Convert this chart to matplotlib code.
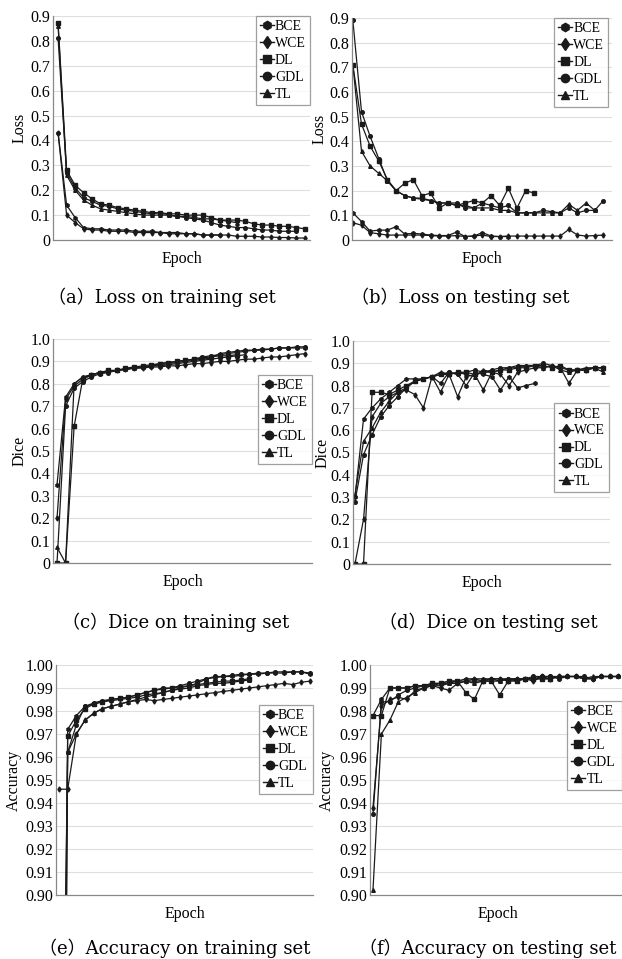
import matplotlib
matplotlib.use("Agg")
import matplotlib.pyplot as plt
from matplotlib.lines import Line2D

plt.rcParams['font.family'] = ['Liberation Serif', 'DejaVu Serif']

W, H = 622, 959

series_names = ["BCE", "WCE", "DL", "GDL", "TL"]
markers = {"BCE": "h", "WCE": "d", "DL": "s", "GDL": "o", "TL": "^"}

# (a) Loss on training set
a_BCE = [0.43, 0.14, 0.09, 0.05, 0.045, 0.045, 0.04, 0.04, 0.04, 0.035, 0.035, 0.035, 0.03, 0.03, 0.03,
         0.025, 0.025, 0.02, 0.02, 0.02]
a_WCE = [0.43, 0.10, 0.07, 0.045, 0.04, 0.04, 0.035, 0.035, 0.035, 0.03, 0.03, 0.03, 0.03, 0.025, 0.025,
         0.025, 0.025, 0.02, 0.02, 0.02, 0.02, 0.015, 0.015, 0.015, 0.012, 0.012, 0.01, 0.01, 0.008, 0.008]
a_DL = [0.87, 0.28, 0.22, 0.19, 0.165, 0.145, 0.14, 0.13, 0.125, 0.12, 0.115, 0.11, 0.11, 0.105, 0.105,
        0.10, 0.10, 0.10, 0.09, 0.08, 0.08, 0.08, 0.075, 0.065, 0.06, 0.06, 0.055, 0.055, 0.05, 0.045]
a_GDL = [0.81, 0.27, 0.21, 0.17, 0.155, 0.14, 0.135, 0.125, 0.12, 0.115, 0.11, 0.105, 0.11, 0.10, 0.095,
         0.09, 0.085, 0.08, 0.07, 0.06, 0.055, 0.05, 0.05, 0.045, 0.04, 0.04, 0.035, 0.035, 0.035]
a_TL = [0.86, 0.26, 0.20, 0.16, 0.14, 0.125, 0.12, 0.115, 0.11, 0.105, 0.10, 0.10, 0.10, 0.10, 0.095,
        0.095, 0.09, 0.085, 0.085, 0.08, 0.075, 0.07]

# (b) Loss on testing set
b_BCE = [0.11, 0.075, 0.036, 0.04, 0.04, 0.054, 0.024, 0.027, 0.024, 0.02, 0.018, 0.018, 0.032, 0.014,
         0.016, 0.03, 0.016, 0.014, 0.014]
b_WCE = [0.07, 0.06, 0.03, 0.025, 0.02, 0.02, 0.02, 0.02, 0.02, 0.018, 0.016, 0.016, 0.018, 0.014, 0.016,
         0.02, 0.014, 0.014, 0.016, 0.016, 0.016, 0.016, 0.016, 0.016, 0.016, 0.043, 0.02, 0.016, 0.018, 0.02]
b_DL = [0.71, 0.47, 0.38, 0.32, 0.245, 0.20, 0.23, 0.245, 0.18, 0.19, 0.13, 0.15, 0.14, 0.15, 0.16,
        0.15, 0.18, 0.14, 0.21, 0.13, 0.20, 0.19]
b_GDL = [0.89, 0.52, 0.42, 0.33, 0.24, 0.20, 0.18, 0.17, 0.165, 0.16, 0.15, 0.15, 0.15, 0.13, 0.13,
         0.15, 0.14, 0.13, 0.14, 0.11, 0.11, 0.11, 0.12, 0.115, 0.11, 0.13, 0.11, 0.12, 0.12, 0.16]
b_TL = [0.71, 0.36, 0.30, 0.27, 0.24, 0.20, 0.18, 0.17, 0.17, 0.16, 0.15, 0.15, 0.14, 0.14, 0.13,
        0.13, 0.13, 0.12, 0.12, 0.11, 0.11, 0.11, 0.11, 0.11, 0.11, 0.145, 0.12, 0.15, 0.12]

# (c) Dice on training set
c_BCE = [0.35, 0.74, 0.80, 0.83, 0.84, 0.85, 0.855, 0.86, 0.865, 0.87, 0.875, 0.88, 0.885, 0.89, 0.895,
         0.90, 0.905, 0.91, 0.915, 0.935, 0.94, 0.945, 0.95, 0.95, 0.955, 0.955, 0.96, 0.96, 0.96, 0.96]
c_WCE = [0.20, 0.73, 0.79, 0.82, 0.84, 0.85, 0.855, 0.86, 0.865, 0.87, 0.87, 0.875, 0.875, 0.88, 0.88,
         0.885, 0.89, 0.89, 0.895, 0.90, 0.90, 0.905, 0.91, 0.91, 0.915, 0.92, 0.92, 0.925, 0.93, 0.935]
c_DL = [0.0, 0.0, 0.61, 0.82, 0.84, 0.85, 0.86, 0.86, 0.87, 0.875, 0.88, 0.885, 0.89, 0.895, 0.90,
        0.905, 0.91, 0.915, 0.92, 0.925, 0.925, 0.93]
c_GDL = [0.0, 0.70, 0.78, 0.81, 0.83, 0.845, 0.85, 0.86, 0.865, 0.87, 0.875, 0.88, 0.89, 0.895, 0.90,
         0.905, 0.91, 0.92, 0.925, 0.93, 0.935, 0.94, 0.945, 0.95, 0.95, 0.955, 0.96, 0.96, 0.965, 0.965]
c_TL = [0.07, 0.0, 0.80, 0.83, 0.84, 0.85, 0.855, 0.86, 0.865, 0.87, 0.875, 0.88, 0.88, 0.885, 0.89,
        0.895, 0.90, 0.905, 0.91, 0.915, 0.92, 0.925, 0.93]

# (d) Dice on testing set
d_BCE = [0.30, 0.65, 0.70, 0.74, 0.77, 0.80, 0.83, 0.83, 0.83, 0.84, 0.81, 0.86, 0.85, 0.80, 0.86,
         0.85, 0.84, 0.78, 0.84, 0.79, 0.80, 0.81]
d_WCE = [0.0, 0.20, 0.66, 0.72, 0.75, 0.77, 0.78, 0.76, 0.70, 0.84, 0.77, 0.85, 0.75, 0.84, 0.85,
         0.78, 0.86, 0.85, 0.80, 0.86, 0.87, 0.88, 0.88, 0.89, 0.88, 0.81, 0.87, 0.87, 0.88, 0.88]
d_DL = [0.0, 0.0, 0.77, 0.77, 0.76, 0.78, 0.80, 0.82, 0.83, 0.84, 0.85, 0.85, 0.86, 0.86, 0.85,
        0.86, 0.86, 0.87, 0.87, 0.88, 0.88, 0.89, 0.89, 0.88, 0.89, 0.87, 0.87, 0.87, 0.88, 0.88]
d_GDL = [0.28, 0.49, 0.58, 0.66, 0.71, 0.75, 0.79, 0.82, 0.83, 0.84, 0.85, 0.86, 0.85, 0.86, 0.87,
         0.86, 0.87, 0.88, 0.88, 0.89, 0.89, 0.89, 0.90, 0.89, 0.88, 0.87, 0.87, 0.87, 0.88, 0.88]
d_TL = [0.31, 0.55, 0.61, 0.68, 0.73, 0.77, 0.79, 0.82, 0.83, 0.84, 0.86, 0.85, 0.86, 0.85, 0.84,
        0.87, 0.86, 0.87, 0.88, 0.88, 0.89, 0.89, 0.88, 0.89, 0.87, 0.86, 0.87, 0.88, 0.88, 0.86]

# (e) Accuracy on training set
e_BCE = [0.60, 0.972, 0.978, 0.982, 0.983, 0.984, 0.9845, 0.985, 0.9855, 0.986, 0.987, 0.9875, 0.988,
         0.989, 0.990, 0.991, 0.992, 0.994, 0.9945, 0.995, 0.995, 0.9955, 0.996, 0.996, 0.9965, 0.9965,
         0.9965, 0.997, 0.997, 0.996]
e_WCE = [0.946, 0.946, 0.970, 0.976, 0.979, 0.981, 0.982, 0.983, 0.984, 0.9845, 0.985, 0.9845, 0.985,
         0.9855, 0.986, 0.9865, 0.987, 0.9875, 0.988, 0.9885, 0.989, 0.9895, 0.990, 0.9905, 0.991,
         0.9915, 0.992, 0.9915, 0.9925, 0.993]
e_DL = [0.50, 0.969, 0.976, 0.981, 0.983, 0.984, 0.985, 0.9855, 0.986, 0.987, 0.988, 0.989, 0.9895,
        0.990, 0.9905, 0.991, 0.9915, 0.992, 0.9925, 0.993, 0.993, 0.9935, 0.994]
e_GDL = [0.70, 0.962, 0.974, 0.982, 0.9835, 0.9845, 0.985, 0.9855, 0.986, 0.987, 0.988, 0.989, 0.990,
         0.990, 0.991, 0.992, 0.993, 0.994, 0.995, 0.995, 0.9955, 0.996, 0.996, 0.9965, 0.9965, 0.997,
         0.997, 0.997, 0.997, 0.9965]
e_TL = [0.40, 0.962, 0.970, 0.976, 0.979, 0.981, 0.982, 0.983, 0.984, 0.985, 0.986, 0.987, 0.988,
        0.989, 0.9895, 0.990, 0.991, 0.9915, 0.992, 0.992, 0.9925, 0.993, 0.9935]

# (f) Accuracy on testing set
f_BCE = [0.978, 0.985, 0.990, 0.990, 0.990, 0.991, 0.991, 0.992, 0.992, 0.993, 0.993, 0.994, 0.994,
         0.994, 0.994, 0.993, 0.994, 0.994, 0.994, 0.994, 0.995, 0.995, 0.995, 0.995, 0.995, 0.994,
         0.994, 0.995, 0.995, 0.995]
f_WCE = [0.938, 0.982, 0.985, 0.986, 0.985, 0.989, 0.990, 0.991, 0.990, 0.989, 0.992, 0.993, 0.994,
         0.993, 0.994, 0.994, 0.993, 0.994, 0.994, 0.993, 0.995, 0.994, 0.995, 0.995, 0.995, 0.994,
         0.994, 0.995, 0.995, 0.995]
f_DL = [0.978, 0.978, 0.990, 0.990, 0.990, 0.991, 0.991, 0.992, 0.992, 0.993, 0.993, 0.988, 0.985,
        0.993, 0.993, 0.987, 0.993, 0.993, 0.994, 0.994, 0.994, 0.994]
f_GDL = [0.935, 0.984, 0.984, 0.987, 0.989, 0.990, 0.991, 0.991, 0.992, 0.992, 0.993, 0.993, 0.993,
         0.993, 0.994, 0.994, 0.994, 0.994, 0.994, 0.995, 0.995, 0.995, 0.994, 0.995, 0.995, 0.995,
         0.994, 0.995, 0.995, 0.995]
f_TL = [0.902, 0.970, 0.976, 0.984, 0.986, 0.988, 0.990, 0.991, 0.991, 0.992, 0.992, 0.993, 0.992,
        0.993, 0.993, 0.993, 0.994, 0.993, 0.994, 0.994, 0.994, 0.994, 0.995, 0.995, 0.995, 0.994,
        0.995, 0.995, 0.995, 0.995]

loss_ticks = [0, 0.1, 0.2, 0.3, 0.4, 0.5, 0.6, 0.7, 0.8, 0.9]
loss_labels = ["0", "0.1", "0.2", "0.3", "0.4", "0.5", "0.6", "0.7", "0.8", "0.9"]
dice_ticks = [0, 0.1, 0.2, 0.3, 0.4, 0.5, 0.6, 0.7, 0.8, 0.9, 1.0]
dice_labels = ["0", "0.1", "0.2", "0.3", "0.4", "0.5", "0.6", "0.7", "0.8", "0.9", "1.0"]
acc_ticks = [0.90, 0.91, 0.92, 0.93, 0.94, 0.95, 0.96, 0.97, 0.98, 0.99, 1.00]
acc_labels = ["0.90", "0.91", "0.92", "0.93", "0.94", "0.95", "0.96", "0.97", "0.98", "0.99", "1.00"]

captions = ["（a）Loss on training set", "（b）Loss on testing set",
            "（c）Dice on training set", "（d）Dice on testing set",
            "（e）Accuracy on training set", "（f）Accuracy on testing set"]

fig = plt.figure(figsize=(W / 100, H / 100), dpi=100)


def add_ax(left, top, right, bottom):
    return fig.add_axes([left / W, 1 - bottom / H, (right - left) / W, (bottom - top) / H])


panels = [
    (dict(BCE=a_BCE, WCE=a_WCE, DL=a_DL, GDL=a_GDL, TL=a_TL), (53, 16, 310, 240), (0, 0.9),
     loss_ticks, loss_labels, "Loss", (0.4, 30.6), "upper right", (1.0, 1.0),
     captions[0], 162, 297, 28),
    (dict(BCE=b_BCE, WCE=b_WCE, DL=b_DL, GDL=b_GDL, TL=b_TL), (352, 18, 612, 240), (0, 0.9),
     loss_ticks, loss_labels, "Loss", (0.9, 31.0), "upper right", (0.985, 1.0),
     captions[1], 460, 297, 328),
    (dict(BCE=c_BCE, WCE=c_WCE, DL=c_DL, GDL=c_GDL, TL=c_TL), (53, 339, 312, 563), (0, 1.0),
     dice_ticks, dice_labels, "Dice", (0.53, 30.8), "upper right", (1.0, 0.84),
     captions[2], 176, 622, 28),
    (dict(BCE=d_BCE, WCE=d_WCE, DL=d_DL, GDL=d_GDL, TL=d_TL), (353, 341, 610, 564), (0, 1.0),
     dice_ticks, dice_labels, "Dice", (0.77, 30.8), "upper right", (0.996, 0.72),
     captions[3], 488, 622, 331),
    (dict(BCE=e_BCE, WCE=e_WCE, DL=e_DL, GDL=e_GDL, TL=e_TL), (56, 665, 313, 895), (0.90, 1.00),
     acc_ticks, acc_labels, "Accuracy", (0.65, 30.35), "upper right", (1.0, 0.826),
     captions[4], 175, 948, 22),
    (dict(BCE=f_BCE, WCE=f_WCE, DL=f_DL, GDL=f_GDL, TL=f_TL), (370, 665, 626, 895), (0.90, 1.00),
     acc_ticks, acc_labels, "Accuracy", (0.65, 30.95), "upper left", (0.77, 0.843),
     captions[5], 488, 948, 335),
]

line_color = "#1a1a1a"
cap_font = ['DejaVu Serif', 'Noto Sans CJK SC']

for (data, box, ylim, ticks, labels, ylabel, xlim, loc, anchor, caption, capx, capy, ylx) in panels:
    ax = add_ax(*box)
    for name in series_names:
        vals = data[name]
        x = list(range(1, len(vals) + 1))
        ax.plot(x, vals, color=line_color, lw=0.9, marker=markers[name], ms=2.6,
                mfc=line_color, mec=line_color, clip_on=True)
    ax.set_ylim(*ylim)
    ax.set_xlim(*xlim)
    ax.set_yticks(ticks)
    ax.set_yticklabels(labels, fontsize=11.5)
    ax.set_xticks([])
    ax.tick_params(axis="y", length=0, pad=2)
    ax.grid(axis="y", color="#dedede", lw=0.8)
    ax.set_axisbelow(True)
    for s in ("top", "right"):
        ax.spines[s].set_visible(False)
    for s in ("left", "bottom"):
        ax.spines[s].set_color("#888888")
        ax.spines[s].set_linewidth(0.9)
    ax.set_xlabel("Epoch", fontsize=11.5, labelpad=8)
    ax.set_ylabel(ylabel, fontsize=11.5)
    ax.yaxis.set_label_coords((ylx - box[0]) / (box[2] - box[0]), 0.5)

    handles = [Line2D([0], [0], color=line_color, lw=1.0, marker=markers[n], ms=6,
                      mfc=line_color, mec=line_color) for n in series_names]
    leg = ax.legend(handles, series_names, loc=loc, bbox_to_anchor=anchor, fontsize=10,
                    frameon=True, fancybox=False, handlelength=1.0, handletextpad=0.1,
                    labelspacing=0.28, borderpad=0.3, borderaxespad=0.0)
    leg.get_frame().set_edgecolor("#888888")
    leg.get_frame().set_linewidth(0.9)

    fig.text(capx / W, 1 - capy / H, caption, ha="center", va="center", fontsize=13,
             family=cap_font)

fig.savefig("out.png", dpi=100)
